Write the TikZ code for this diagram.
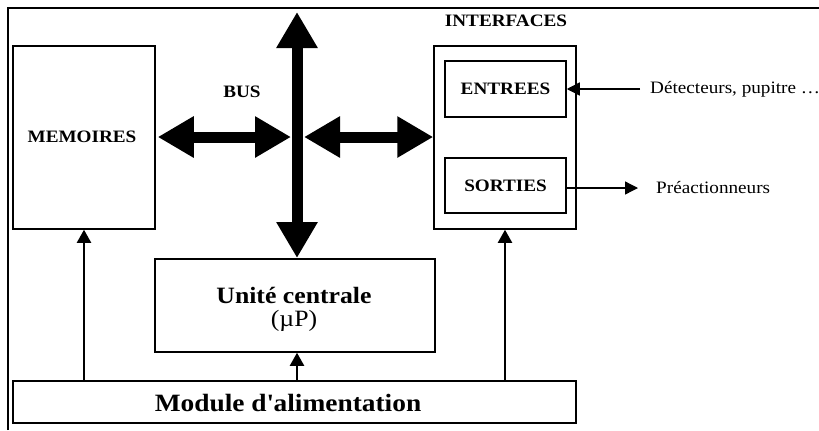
\documentclass[tikz,border=0pt]{standalone}
\usepackage{fontspec}
\setmainfont{Liberation Serif}[FakeStretch=1.1]
\usetikzlibrary{arrows.meta}
\begin{document}
\begin{tikzpicture}[x=1bp,y=-1bp,
  box/.style={draw, line width=1.5bp, minimum width=#1, inner sep=0pt},
  lbl/.style={font=\fontsize{17.5}{20}\selectfont\bfseries, inner sep=0pt},
  txt/.style={font=\fontsize{17.5}{20}\selectfont, inner sep=0pt, anchor=west},
  bus/.style={line width=11bp, {Triangle[width=39bp,length=36bp]}-{Triangle[width=39bp,length=36bp]}},
  pw/.style={line width=2bp, -{Triangle[width=14bp,length=13bp]}},
  io/.style={line width=1.3bp, -{Triangle[width=13bp,length=13bp]}}]
\useasboundingbox (0,0) rectangle (819,430);
\draw[line width=2.5bp] (8,430) -- (8,8) -- (819,8);
% boxes
\node[box=142bp, minimum height=183bp] (mem) at (84,137.5) {};
\node[lbl] (memt) at (82,137) {MEMOIRES};
\node[box=142bp, minimum height=183bp] (itf) at (505,137.5) {};
\node[lbl] (itft) at (506,21) {INTERFACES};
\node[box=121bp, minimum height=56bp, lbl, draw, line width=1.5bp] (ent) at (505.5,89) {ENTREES};
\node[box=121bp, minimum height=55bp, lbl, draw, line width=1.5bp] (sor) at (505.5,185.5) {SORTIES};
\node[box=280bp, minimum height=93bp] (uc) at (295,305.5) {};
\node[font=\fontsize{23.5}{26}\selectfont\bfseries, inner sep=0pt] (uct) at (294,295) {Unité centrale};
\node[font=\fontsize{23.5}{26}\selectfont, inner sep=0pt] (ucp) at (294,321) {(µP)};
\node[box=563bp, minimum height=42bp] (mod) at (294.5,402) {};
\node[font=\fontsize{25}{28}\selectfont\bfseries, inner sep=0pt] (modt) at (288,403) {Module d\textquotesingle alimentation};
\node[lbl] (bust) at (242,92) {BUS};
\node[txt] (det) at (650,89) {Détecteurs, pupitre …};
\node[txt] (pre) at (656,188) {Préactionneurs};
% bus
\coordinate (btop) at (297,12);
\coordinate (bbot) at (297,258);
\coordinate (crossL) at (291,137);
\coordinate (crossR) at (304,137);
\draw[bus] (btop) -- (bbot);
\draw[bus] (mem.east |- crossL) ++(2,0) -- (crossL);
\draw[bus] (crossR) -- (itf.west |- crossR);
% power
\draw[pw] (mod.north -| 84,0) -- (mem.south -| 84,0);
\draw[pw] (mod.north -| 297,0) -- (uc.south -| 297,0);
\draw[pw] (mod.north -| 505,0) -- (itf.south -| 505,0);
% io
\coordinate (detend) at (640,89);
\coordinate (preend) at (638,188);
\draw[io] (detend) -- (ent.east |- detend);
\draw[io] (sor.east |- preend) -- (preend);
\end{tikzpicture}
\end{document}
